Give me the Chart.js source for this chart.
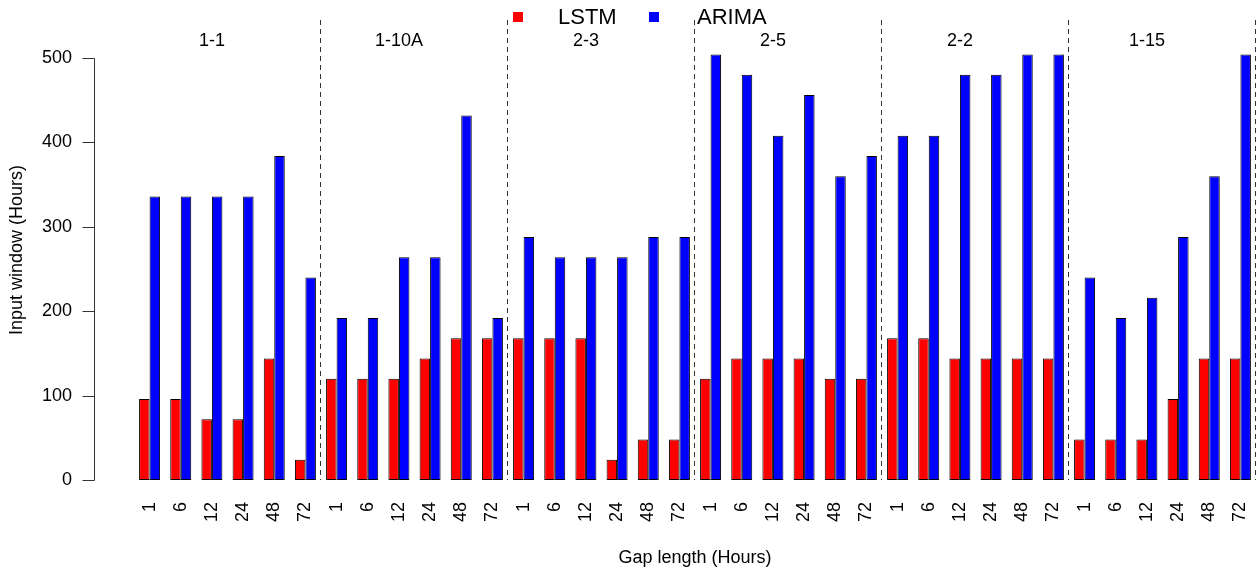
<!DOCTYPE html>
<html>
<head>
<meta charset="utf-8">
<script src="https://cdn.jsdelivr.net/npm/chart.js@4"></script>
<style>
    body { margin: 0; background: #fff; }
    #wrap { width: 1259px; height: 572px; }
</style>
</head>
<body>
<div id="wrap"><canvas id="grafica" width="1259" height="572"></canvas></div>
<script>
// datos
const grupos = ["1-1", "1-10A", "2-3", "2-5", "2-2", "1-15"];
const gaps = ["1", "6", "12", "24", "48", "72"];
const lstm = [
    96, 96, 72, 72, 144, 24,
    120, 120, 120, 144, 168, 168,
    168, 168, 168, 24, 48, 48,
    120, 144, 144, 144, 120, 120,
    168, 168, 144, 144, 144, 144,
    48, 48, 48, 96, 144, 144
];
const arima = [
    336, 336, 336, 336, 384, 240,
    192, 192, 264, 264, 432, 192,
    288, 264, 264, 264, 288, 288,
    504, 480, 408, 456, 360, 384,
    408, 408, 480, 480, 504, 504,
    240, 192, 216, 288, 360, 504
];
const yTicks = [0, 100, 200, 300, 400, 500];

const etiquetas = grupos.flatMap(() => gaps);
const fuente = "'Liberation Sans', Arial, sans-serif";

// eje y, lineas punteadas, nombres de grupo y leyenda (estilo R)
const adornos = {
    id: "adornos",
    afterDatasetsDraw(chart) {
        const { ctx, chartArea, scales: { x, y } } = chart;
        ctx.save();

        // eje y
        const ejeX = chartArea.left - 39.5;
        ctx.strokeStyle = "#333";
        ctx.lineWidth = 1;
        ctx.beginPath();
        ctx.moveTo(ejeX, Math.round(y.getPixelForValue(0)) + 0.5);
        ctx.lineTo(ejeX, Math.round(y.getPixelForValue(500)) + 0.5);
        yTicks.forEach(v => {
            const py = Math.round(y.getPixelForValue(v)) + 0.5;
            ctx.moveTo(ejeX - 12, py);
            ctx.lineTo(ejeX, py);
        });
        ctx.stroke();

        // separadores entre grupos
        const paso = x.getPixelForValue(1) - x.getPixelForValue(0);
        ctx.setLineDash([5, 4]);
        ctx.strokeStyle = "#333";
        grupos.forEach((g, i) => {
            const px = Math.round(x.getPixelForValue(i * gaps.length + gaps.length - 1) + paso / 2) - 0.5;
            ctx.beginPath();
            ctx.moveTo(px, chartArea.top);
            ctx.lineTo(px, chartArea.bottom);
            ctx.stroke();
        });
        ctx.setLineDash([]);

        // nombres de grupo
        ctx.fillStyle = "#000";
        ctx.font = "18px " + fuente;
        ctx.textAlign = "center";
        ctx.textBaseline = "middle";
        grupos.forEach((g, i) => {
            ctx.fillText(g, x.getPixelForValue(i * gaps.length + 2), 41);
        });

        // leyenda
        ctx.font = "22px " + fuente;
        ctx.textAlign = "left";
        const items = [[513, 558], [649, 697]];
        chart.data.datasets.forEach((ds, i) => {
            ctx.fillStyle = ds.backgroundColor;
            ctx.fillRect(items[i][0], 12, 10, 10);
            ctx.fillStyle = "#000";
            ctx.fillText(ds.label, items[i][1], 18);
        });

        ctx.restore();
    }
};

const ctx = document.getElementById("grafica").getContext("2d");

new Chart(ctx, {
    type: "bar",
    data: {
        labels: etiquetas,
        datasets: [
            {
                label: "LSTM",
                data: lstm,
                backgroundColor: "#ff0000",
                borderColor: "#000",
                borderWidth: 1,
                borderSkipped: false
            },
            {
                label: "ARIMA",
                data: arima,
                backgroundColor: "#0000ff",
                borderColor: "#000",
                borderWidth: 1,
                borderSkipped: false
            }
        ]
    },
    options: {
        responsive: false,
        animation: false,
        layout: { padding: { top: 20, right: 3, left: 0, bottom: 0 } },
        datasets: {
            bar: { categoryPercentage: 0.674, barPercentage: 1 }
        },
        scales: {
            x: {
                grid: { display: false, drawTicks: false },
                border: { display: false },
                ticks: {
                    autoSkip: false,
                    minRotation: 90,
                    maxRotation: 90,
                    padding: 22,
                    color: "#000",
                    font: { size: 18, family: fuente }
                },
                title: {
                    display: true,
                    text: "Gap length (Hours)",
                    color: "#000",
                    font: { size: 18, family: fuente },
                    padding: { top: 0, bottom: 3 }
                },
                afterFit: scale => {
                    scale.height = 92;
                    scale.paddingLeft = 0;
                    scale.paddingRight = 0;
                }
            },
            y: {
                min: 0,
                max: 545,
                grid: { display: false, drawTicks: false },
                border: { display: false },
                ticks: {
                    padding: 62,
                    color: "#000",
                    font: { size: 18, family: fuente }
                },
                afterBuildTicks: scale => {
                    scale.ticks = yTicks.map(v => ({ value: v }));
                },
                title: {
                    display: true,
                    text: "Input window (Hours)",
                    color: "#000",
                    font: { size: 18, family: fuente },
                    padding: { top: 6, bottom: 0 }
                },
                afterFit: scale => {
                    scale.width = 134;
                    scale.paddingTop = 0;
                    scale.paddingBottom = 0;
                }
            }
        },
        plugins: {
            legend: { display: false },
            tooltip: { enabled: false }
        }
    },
    plugins: [adornos]
});
</script>
</body>
</html>
